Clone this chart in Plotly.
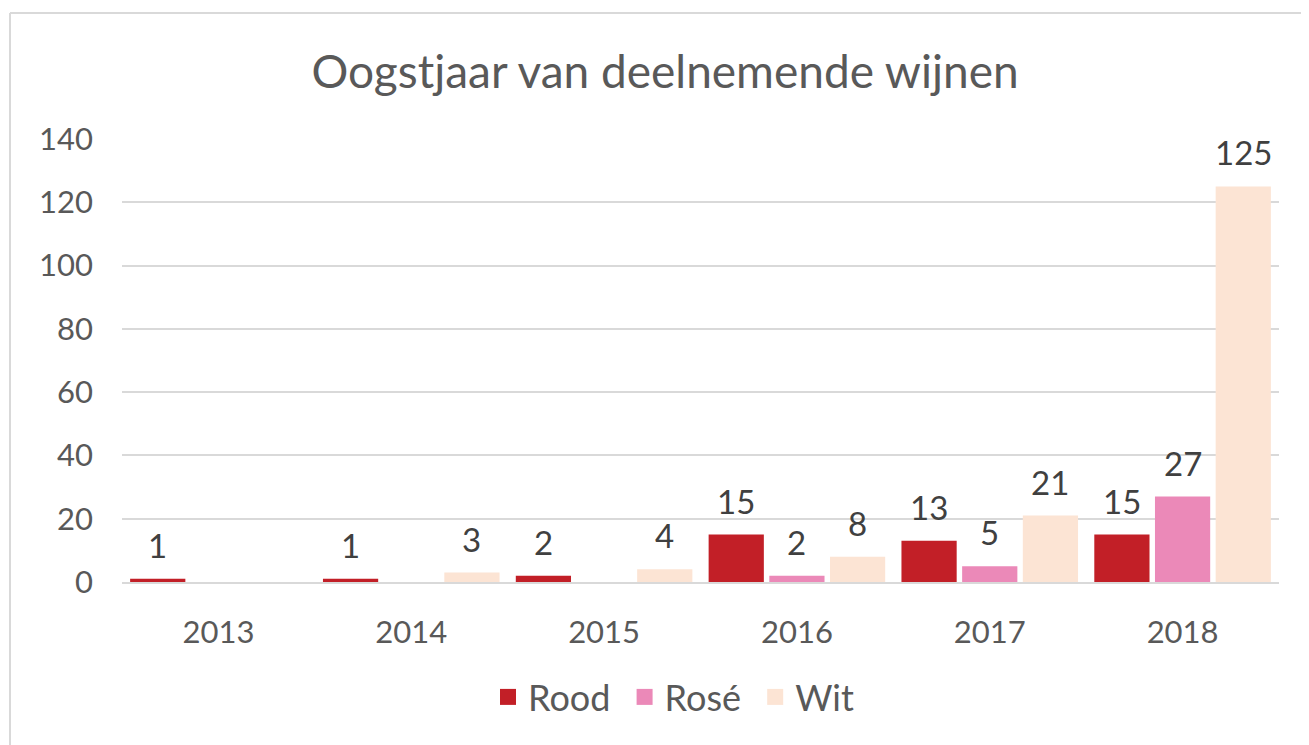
import plotly.graph_objects as go

years = ["2013", "2014", "2015", "2016", "2017", "2018"]
rood = [1, 1, 2, 15, 13, 15]
rose = [None, None, None, 2, 5, 27]
wit = [None, 3, 4, 8, 21, 125]
series_names = ["Rood", "Rosé", "Wit"]
colors = ["#C21F27", "#EB89B8", "#FCE4D4"]
y_ticks = [0, 20, 40, 60, 80, 100, 120, 140]

# page has an 8px body margin; work in figure coordinates
OFF = 8
W, H = 1309 - OFF, 745 - OFF
L, R, T, B = 122 - OFF, 30, 139 - OFF, 163
FONT = "Century Gothic, Lato, sans-serif"
BARGAP, GROUPGAP = 0.056, 0.09

fig = go.Figure()
for name, vals, col in zip(series_names, [rood, rose, wit], colors):
    fig.add_trace(go.Bar(
        x=years, y=vals, name=name, marker=dict(color=col, line=dict(width=0)),
        showlegend=False, hoverinfo="x+y+name",
    ))
    fig.add_trace(go.Scatter(
        x=[None], y=[None], mode="markers", name=name + "\u00a0",
        marker=dict(symbol="square", size=16, color=col),
    ))

pw = W - L - R
ph = H - T - B
def px_x(p):
    return (p - OFF - L) / pw
def px_y(p):
    return (H - B - (p - OFF)) / ph

# data labels above bars (category index positions on the category axis)
cat_w = pw / len(years)
slot = cat_w * (1 - BARGAP) / 3
annotations = []
for i, vals in enumerate([rood, rose, wit]):
    for j, v in enumerate(vals):
        if v is None:
            continue
        annotations.append(dict(
            x=j, y=v, xref="x", yref="y", text=str(v), showarrow=False,
            xshift=(i - 1) * slot, yshift=12, yanchor="bottom", xanchor="center",
            font=dict(size=33, color="#404040", family=FONT),
        ))

shapes = [
    dict(type="line", xref="paper", yref="paper", x0=px_x(10), x1=px_x(10),
         y0=px_y(13), y1=px_y(760), line=dict(color="#D9D9D9", width=2)),
    dict(type="line", xref="paper", yref="paper", x0=px_x(10), x1=px_x(1320),
         y0=px_y(13), y1=px_y(13), line=dict(color="#D9D9D9", width=2)),
]

fig.update_layout(
    width=W, height=H,
    margin=dict(l=L, r=R, t=T, b=B, autoexpand=False),
    paper_bgcolor="white", plot_bgcolor="white",
    font=dict(family=FONT, color="#595959", size=30),
    title=dict(text="Oogstjaar van deelnemende wijnen", x=(665 - OFF) / W, xanchor="center",
               y=1 - (72 - OFF) / H, yanchor="middle",
               font=dict(size=46, color="#595959", family=FONT)),
    barmode="group", bargap=BARGAP, bargroupgap=GROUPGAP,
    xaxis=dict(type="category", categoryorder="array", categoryarray=years,
               range=[-0.5, len(years) - 0.5],
               showgrid=False, showline=True, linecolor="#D9D9D9", linewidth=2,
               ticks="", ticklabelstandoff=22, tickfont=dict(size=31, color="#595959")),
    yaxis=dict(range=[0, 140], tickvals=y_ticks, showgrid=True, gridcolor="#D9D9D9",
               gridwidth=2, zeroline=False, showline=False, ticks="",
               ticklabelstandoff=28, tickfont=dict(size=31, color="#595959")),
    legend=dict(orientation="h", x=px_x(488), xanchor="left", y=px_y(697), yanchor="middle",
                font=dict(size=36, color="#595959", family=FONT), itemwidth=30,
                bgcolor="rgba(0,0,0,0)"),
    shapes=shapes,
    annotations=annotations,
)

fig.write_html("out.html")
